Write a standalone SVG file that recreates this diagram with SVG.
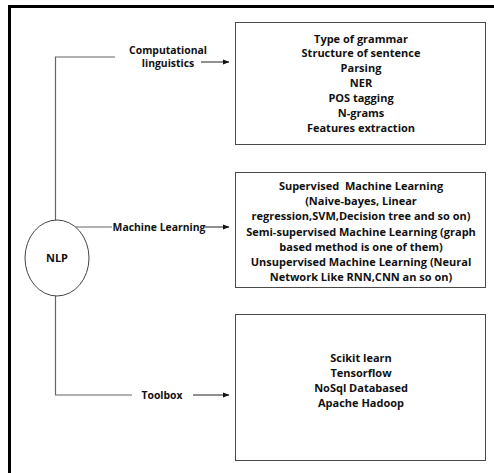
<svg xmlns="http://www.w3.org/2000/svg" width="494" height="473" viewBox="0 0 494 473">
  <style>
    .box { fill: #fff; stroke: #4a4a4a; stroke-width: 1; }
    .wire { fill: none; stroke: #666; stroke-width: 1.2; }
    .arr { fill: none; stroke: #222; stroke-width: 1; }
    text { font-family: "Open Sans", "DejaVu Sans", sans-serif; font-weight: bold; fill: #111; }
    .item { font-size: 11px; text-anchor: middle; }
    .lbl { font-size: 10.4px; text-anchor: middle; }
  </style>
  <defs>
    <marker id="head" markerWidth="7" markerHeight="6" refX="6" refY="3" orient="auto" markerUnits="userSpaceOnUse">
      <path d="M0,0.5 L6.5,3 L0,5.5 Z" fill="#111"/>
    </marker>
  </defs>
  <rect width="494" height="473" fill="#fff"/>
  <!-- outer frame -->
  <path d="M9.5,473 V6.5 H494" fill="none" stroke="#000" stroke-width="3"/>

  <g id="connectors">
    <path class="wire" d="M115,57 H55.5 V220"/>
    <path class="wire" d="M55.5,296 V395 H132"/>
    <path class="wire" d="M75.5,227 H112"/>
    <line class="arr" x1="201" y1="62" x2="229" y2="62" marker-end="url(#head)"/>
    <line class="arr" x1="205" y1="227" x2="229" y2="227" marker-end="url(#head)"/>
    <line class="arr" x1="193" y1="395" x2="229" y2="395" marker-end="url(#head)"/>
    <text class="lbl" x="168" y="54">Computational</text>
    <text class="lbl" x="168" y="67">linguistics</text>
    <text class="lbl" x="159" y="231">Machine Learning</text>
    <text class="lbl" x="162" y="399">Toolbox</text>
  </g>

  <g id="nlp">
    <ellipse cx="57" cy="258" rx="32" ry="38" fill="#fff" stroke="#444" stroke-width="1"/>
    <text x="57" y="262" font-size="11" text-anchor="middle">NLP</text>
  </g>

  <g id="computational-linguistics">
    <rect class="box" x="235.5" y="22.5" width="250" height="122"/>
    <text class="item" x="361" y="42.5">Type of grammar</text>
    <text class="item" x="361" y="57.4">Structure of sentence</text>
    <text class="item" x="361" y="72.3">Parsing</text>
    <text class="item" x="361" y="87.2">NER</text>
    <text class="item" x="361" y="102.1">POS tagging</text>
    <text class="item" x="361" y="117">N-grams</text>
    <text class="item" x="361" y="131.9">Features extraction</text>
  </g>

  <g id="machine-learning">
    <rect class="box" x="235.5" y="172.5" width="250" height="115"/>
    <text class="item" x="361" y="190" style="white-space:pre">Supervised  Machine Learning</text>
    <text class="item" x="361" y="205.2">(Naive-bayes, Linear</text>
    <text class="item" x="361" y="220.4">regression,SVM,Decision tree and so on)</text>
    <text class="item" x="361" y="235.6">Semi-supervised Machine Learning (graph</text>
    <text class="item" x="361" y="250.8">based method is one of them)</text>
    <text class="item" x="361" y="266">Unsupervised Machine Learning (Neural</text>
    <text class="item" x="361" y="281.2">Network Like RNN,CNN an so on)</text>
  </g>

  <g id="toolbox">
    <rect class="box" x="235.5" y="314.5" width="250" height="146"/>
    <text class="item" x="361" y="362">Scikit learn</text>
    <text class="item" x="361" y="377">Tensorflow</text>
    <text class="item" x="361" y="392">NoSql Databased</text>
    <text class="item" x="361" y="407">Apache Hadoop</text>
  </g>
</svg>
